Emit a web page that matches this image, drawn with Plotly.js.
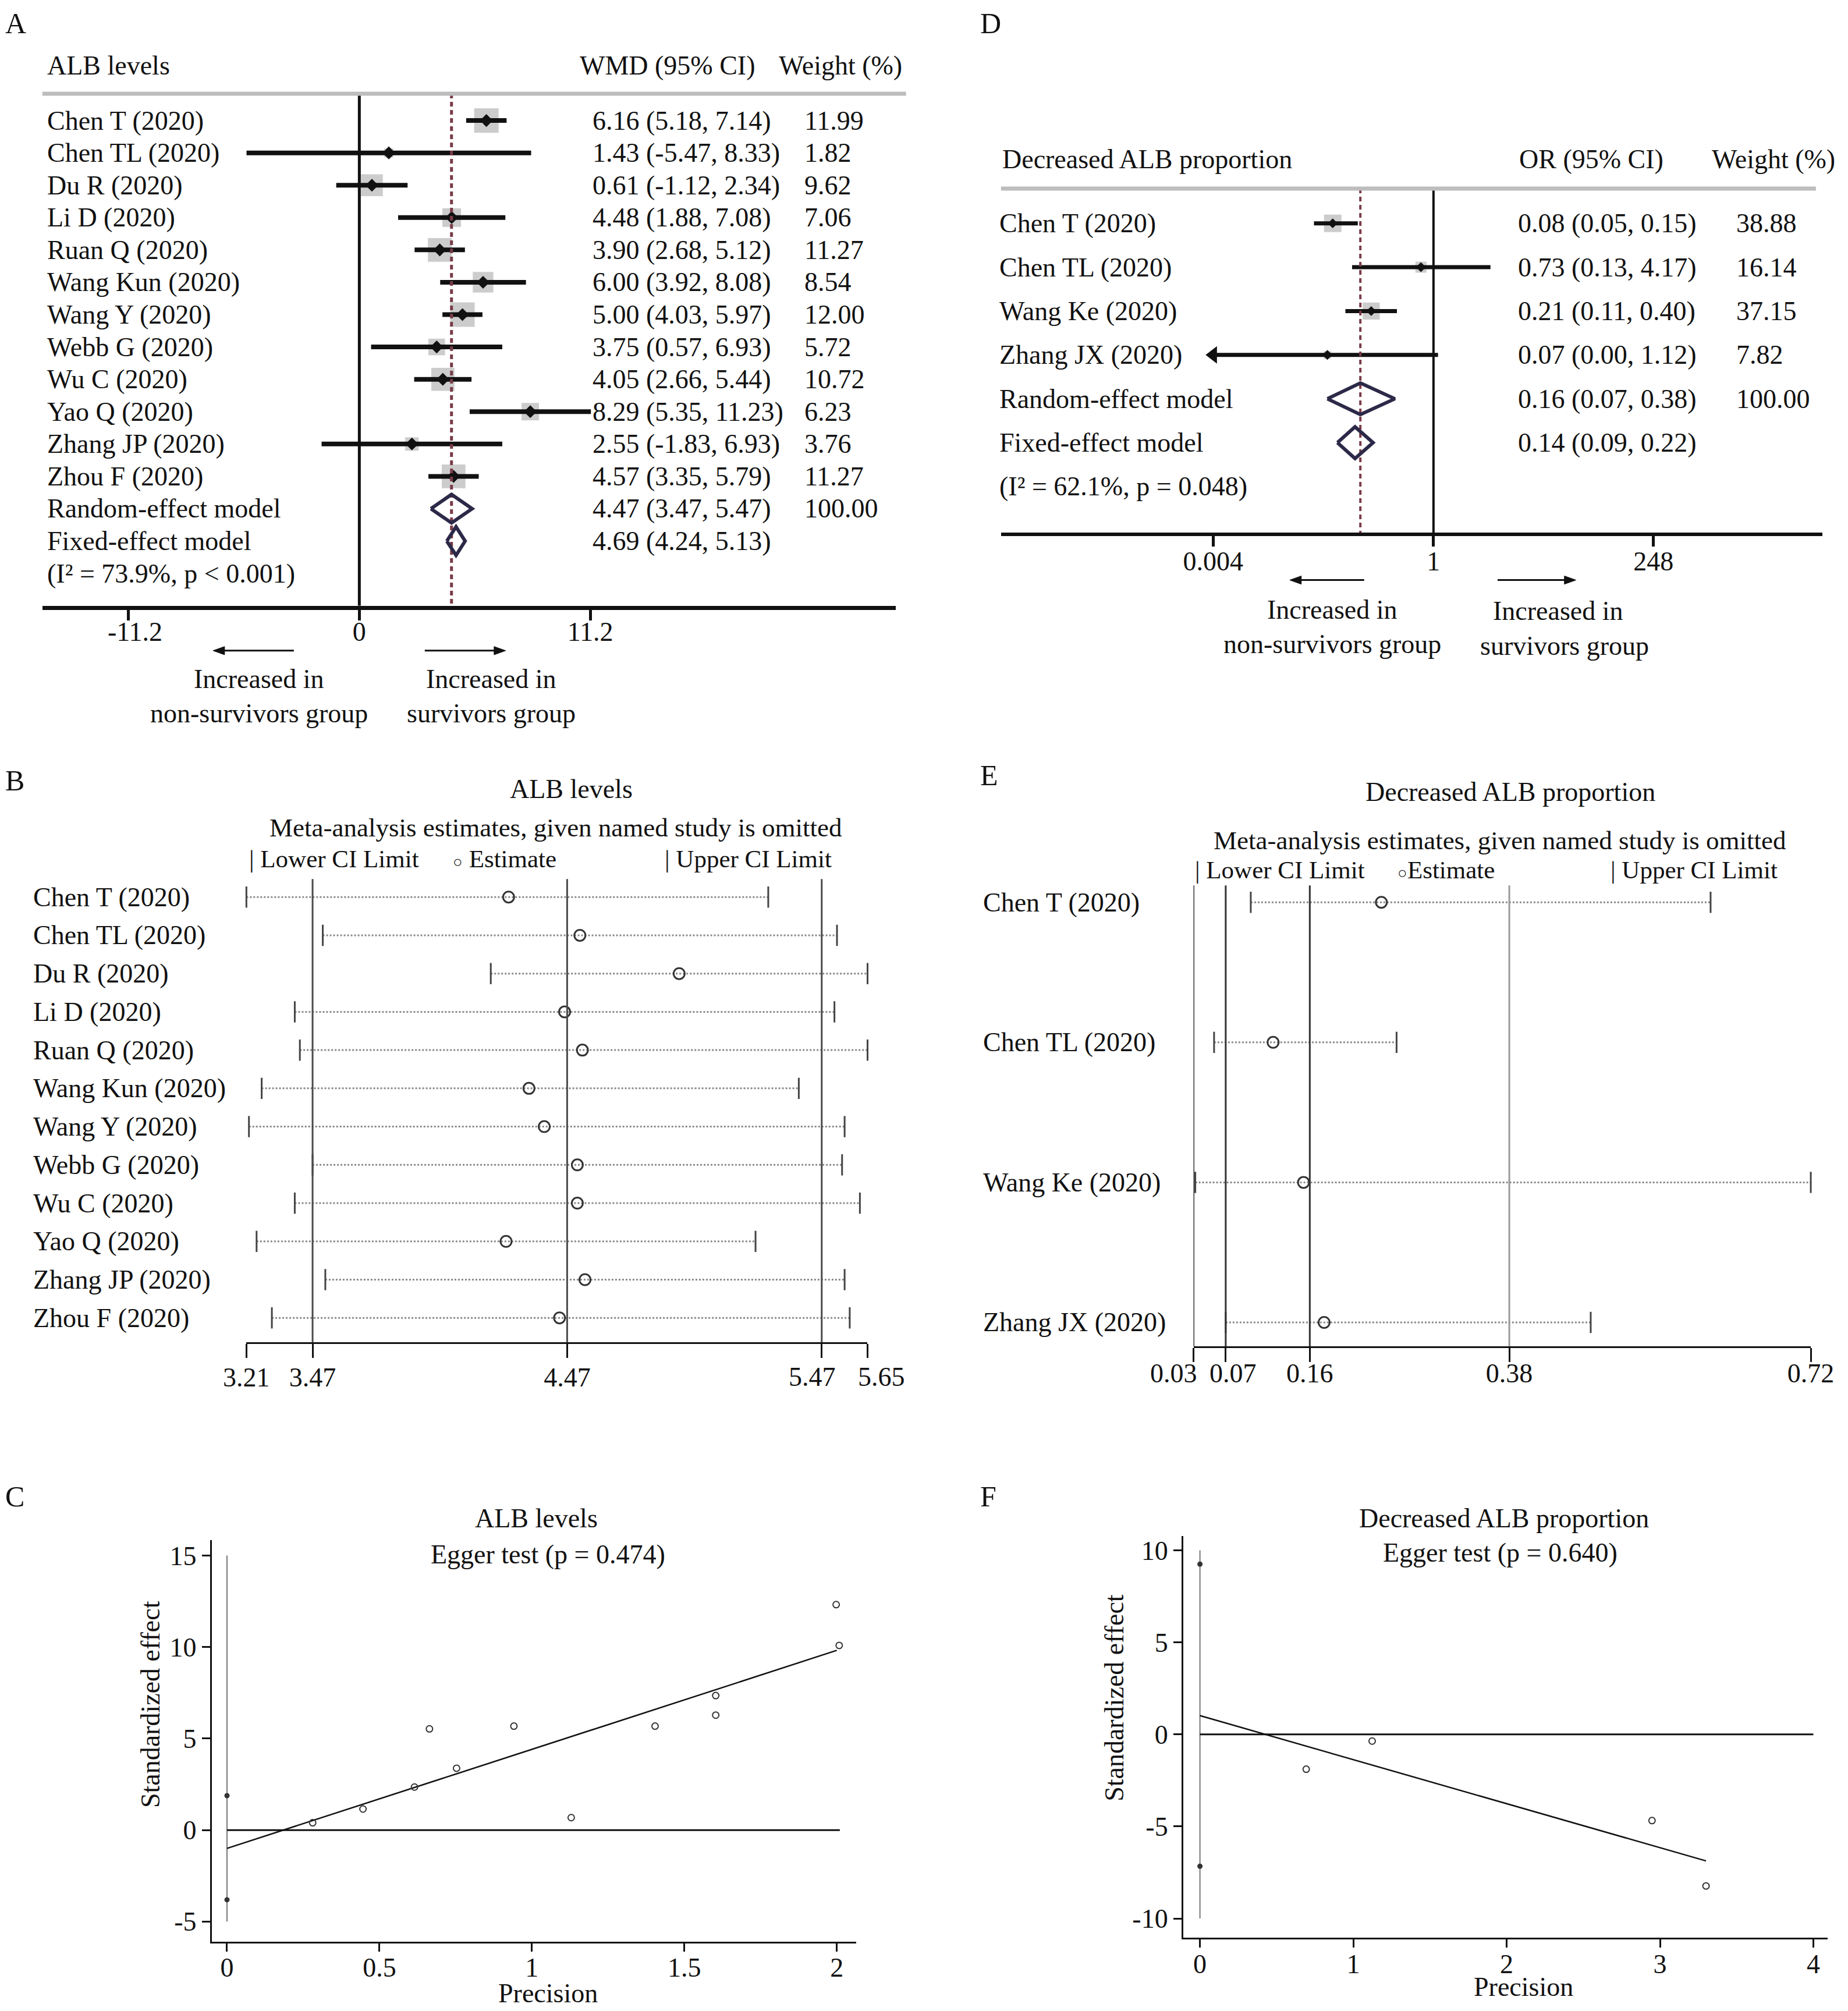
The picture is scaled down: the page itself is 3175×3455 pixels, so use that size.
<!DOCTYPE html>
<html><head><meta charset="utf-8">
<script src="https://cdn.plot.ly/plotly-3.0.1.min.js"></script>
<style>html,body{margin:0;padding:0;background:#fff}</style>
</head><body><div id="chart" style="width:3175px;height:3455px"></div>
<script>
// ---------------- Panel A : ALB levels forest plot ----------------
const studiesA = ['Chen T (2020)','Chen TL (2020)','Du R (2020)','Li D (2020)','Ruan Q (2020)','Wang Kun (2020)','Wang Y (2020)','Webb G (2020)','Wu C (2020)','Yao Q (2020)','Zhang JP (2020)','Zhou F (2020)'];
const wmdA    = [6.16, 1.43, 0.61, 4.48, 3.90, 6.00, 5.00, 3.75, 4.05, 8.29, 2.55, 4.57];
const loA     = [5.18, -5.47, -1.12, 1.88, 2.68, 3.92, 4.03, 0.57, 2.66, 5.35, -1.83, 3.35];
const hiA     = [7.14, 8.33, 2.34, 7.08, 5.12, 8.08, 5.97, 6.93, 5.44, 11.23, 6.93, 5.79];
const weightA = [11.99, 1.82, 9.62, 7.06, 11.27, 8.54, 12.00, 5.72, 10.72, 6.23, 3.76, 11.27];
const pooledLabelsA = ['Random-effect model','Fixed-effect model'];
const pooledEstA = [4.47, 4.69];
const pooledLoA  = [3.47, 4.24];
const pooledHiA  = [5.47, 5.13];
const pooledWeightA = [100.00, null];
const hetA = '(I² = 73.9%, p < 0.001)';
const ticksA = [-11.2, 0, 11.2];
const nullA = 0;

// ---------------- Panel D : Decreased ALB proportion forest plot ----------------
const studiesD = ['Chen T (2020)','Chen TL (2020)','Wang Ke (2020)','Zhang JX (2020)'];
const orD     = [0.08, 0.73, 0.21, 0.07];
const loD     = [0.05, 0.13, 0.11, 0.00];
const hiD     = [0.15, 4.17, 0.40, 1.12];
const weightD = [38.88, 16.14, 37.15, 7.82];
const pooledLabelsD = ['Random-effect model','Fixed-effect model'];
const pooledEstD = [0.16, 0.14];
const pooledLoD  = [0.07, 0.09];
const pooledHiD  = [0.38, 0.22];
const pooledWeightD = [100.00, null];
const hetD = '(I² = 62.1%, p = 0.048)';
const ticksD = [0.004, 1, 248];
const nullD = 1;

// ---------------- Panel B : leave-one-out, ALB levels ----------------
const estB = [4.24, 4.52, 4.91, 4.46, 4.53, 4.32, 4.38, 4.51, 4.51, 4.23, 4.54, 4.44];
const loB  = [3.21, 3.51, 4.17, 3.40, 3.42, 3.27, 3.22, 3.47, 3.40, 3.25, 3.52, 3.31];
const hiB  = [5.26, 5.53, 5.65, 5.52, 5.65, 5.38, 5.56, 5.55, 5.62, 5.21, 5.56, 5.58];
const ticksB = [3.21, 3.47, 4.47, 5.47, 5.65];
const overallB = [3.47, 4.47, 5.47];

// ---------------- Panel E : leave-one-out, decreased ALB proportion ----------------
const estE = [0.240, 0.119, 0.153, 0.176];
const loE  = [0.094, 0.053, 0.032, 0.066];
const hiE  = [0.608, 0.257, 0.720, 0.474];
const ticksE = [0.03, 0.066, 0.16, 0.383, 0.72];
const overallE = [0.066, 0.16, 0.383];

// ---------------- Panel C : Egger plot, ALB levels ----------------
const precC = [0.281, 0.446, 0.615, 0.664, 0.753, 0.941, 1.129, 1.404, 1.603, 1.603, 1.998, 2.008];
const effC  = [0.40, 1.15, 2.35, 5.53, 3.38, 5.68, 0.68, 5.68, 7.35, 6.28, 12.32, 10.09];
const interceptCIC = [-3.81, 1.88];
const eggerXC = [0, 2.00];
const eggerYC = [-1.00, 9.82];
const zeroEndC = 2.01;
const ticksXC = [0, 0.5, 1, 1.5, 2];
const ticksYC = [-5, 0, 5, 10, 15];

// ---------------- Panel F : Egger plot, decreased ALB proportion ----------------
const precF = [0.693, 1.123, 2.948, 3.30];
const effF  = [-1.89, -0.36, -4.68, -8.23];
const interceptCIF = [-7.16, 9.25];
const eggerXF = [0, 3.30];
const eggerYF = [1.02, -6.87];
const zeroEndF = 4;
const ticksXF = [0, 1, 2, 3, 4];
const ticksYF = [-10, -5, 0, 5, 10];

// =====================================================================
const DW = 1440, DH = 1567;            // reference layout grid
const px = d => d / DW;
const py = d => 1 - d / DH;
const FONT = 'Liberation Serif, Times New Roman, serif';
const FS = 46;
const INK = '#111111';
const NB = '\u00A0';

const traces = [];
const annotations = [];
const shapes = [];

function txt(text, x, y, opt) {
  annotations.push(Object.assign({
    text: text, x: x, y: y, xref: 'paper', yref: 'paper', showarrow: false,
    xanchor: 'left', yanchor: 'middle', align: 'left',
    font: {family: FONT, size: FS, color: INK}
  }, opt || {}));
}
// direction arrows drawn as plain shapes (shaft + small head)
function arrow(tailX, headX, yD) {
  const y = py(yD), hx = px(headX), tx = px(tailX);
  const dir = headX < tailX ? 1 : -1;
  const L = px(9) * dir, Wd = 3.2 / DH;
  shapes.push({type:'line', xref:'paper', yref:'paper', x0:tx, x1:hx + L * 0.6, y0:y, y1:y, line:{color:INK, width:3}});
  shapes.push({type:'path', xref:'paper', yref:'paper',
    path:`M ${hx} ${y} L ${hx + L} ${y + Wd} L ${hx + L} ${y - Wd} Z`,
    fillcolor:INK, line:{color:INK, width:1}});
}
function segs(lo, hi, rows) {
  const x = [], y = [];
  lo.forEach((l, i) => { x.push(l, hi[i], null); y.push(rows[i], rows[i], null); });
  return {x, y};
}
const fmt = v => v.toFixed(2);
const ci = (e, l, h) => `${fmt(e)} (${fmt(l)}, ${fmt(h)})`;

// ---------------- Panel A drawing ----------------
const rowsA = studiesA.map((_, i) => i);
const pooledRowsA = [studiesA.length, studiesA.length + 1];
const hetRowA = studiesA.length + 2;
const yRangeA = [15.0, -0.83];
const maxWA = Math.max(...weightA);

traces.push({type:'scatter', mode:'markers', x: wmdA, y: rowsA, xaxis:'x', yaxis:'y',
  marker:{symbol:'square', color:'#b7b7b7', size: weightA.map(w => 43 * Math.sqrt(w / maxWA))},
  hoverinfo:'skip', cliponaxis:false});
(function(){ const s = segs(loA, hiA, rowsA);
  traces.push({type:'scatter', mode:'lines', x:s.x, y:s.y, xaxis:'x', yaxis:'y',
    line:{color:INK, width:8}, hoverinfo:'skip', cliponaxis:false}); })();
traces.push({type:'scatter', mode:'markers', x: wmdA, y: rowsA, xaxis:'x', yaxis:'y',
  marker:{symbol:'diamond', color:INK, size:17}, hoverinfo:'skip', cliponaxis:false});
traces.push({type:'scatter', mode:'lines', x:[nullA, nullA], y:[yRangeA[1], yRangeA[0]], xaxis:'x', yaxis:'y',
  line:{color:INK, width:5}, hoverinfo:'skip'});
traces.push({type:'scatter', mode:'lines', x:[pooledEstA[0], pooledEstA[0]], y:[yRangeA[1], yRangeA[0]], xaxis:'x', yaxis:'y',
  line:{color:'#7a3b48', width:5, dash:'8px,6px'}, hoverinfo:'skip'});
pooledEstA.forEach((e, k) => {
  const r = pooledRowsA[k], h = 0.44;
  traces.push({type:'scatter', mode:'lines', xaxis:'x', yaxis:'y',
    x:[pooledLoA[k], e, pooledHiA[k], e, pooledLoA[k]], y:[r, r - h, r, r + h, r],
    line:{color:'#2c2948', width:6}, hoverinfo:'skip'});
});
// A texts
txt('A', px(3), py(18), {font:{family:FONT, size:50, color:INK}});
txt('ALB levels', px(36), py(51));
txt('WMD (95% CI)', px(451), py(51));
txt('Weight (%)', px(606), py(51));
shapes.push({type:'line', xref:'paper', yref:'paper', x0:px(33), x1:px(706), y0:py(73), y1:py(73), line:{color:'#bdbdbd', width:7}});
studiesA.forEach((s, i) => {
  txt(s, px(36), rowsA[i], {yref:'y'});
  txt(ci(wmdA[i], loA[i], hiA[i]), px(461), rowsA[i], {yref:'y'});
  txt(fmt(weightA[i]), px(626), rowsA[i], {yref:'y'});
});
pooledLabelsA.forEach((s, k) => {
  txt(s, px(36), pooledRowsA[k], {yref:'y'});
  txt(ci(pooledEstA[k], pooledLoA[k], pooledHiA[k]), px(461), pooledRowsA[k], {yref:'y'});
  if (pooledWeightA[k] !== null) txt(fmt(pooledWeightA[k]), px(626), pooledRowsA[k], {yref:'y'});
});
txt(hetA, px(36), hetRowA, {yref:'y'});
arrow(229, 166, 507);
arrow(331, 394, 507);
txt('Increased in', px(202), py(529), {xanchor:'center'});
txt('non-survivors group', px(202), py(556), {xanchor:'center'});
txt('Increased in', px(383), py(529), {xanchor:'center'});
txt('survivors group', px(383), py(556), {xanchor:'center'});

// ---------------- Panel D drawing ----------------
const rowsD = studiesD.map((_, i) => i);
const pooledRowsD = [studiesD.length, studiesD.length + 1];
const hetRowD = studiesD.length + 2;
const yRangeD = [7.05, -0.79];
const maxWD = Math.max(...weightD);
const clipD = ticksD[0];
const loDc = loD.map(v => Math.max(v, clipD));

traces.push({type:'scatter', mode:'markers', x: orD, y: rowsD, xaxis:'x2', yaxis:'y2',
  marker:{symbol:'square', color:'#b7b7b7', size: weightD.map(w => 31 * Math.sqrt(w / maxWD))},
  hoverinfo:'skip', cliponaxis:false});
(function(){ const s = segs(loDc, hiD, rowsD);
  traces.push({type:'scatter', mode:'lines', x:s.x, y:s.y, xaxis:'x2', yaxis:'y2',
    line:{color:INK, width:7}, hoverinfo:'skip', cliponaxis:false}); })();
traces.push({type:'scatter', mode:'markers', x: orD, y: rowsD, xaxis:'x2', yaxis:'y2',
  marker:{symbol:'diamond', color:INK, size:13}, hoverinfo:'skip', cliponaxis:false});
// truncated-CI arrow heads
(function(){
  const idx = loD.map((l, i) => l < clipD ? i : -1).filter(i => i >= 0);
  traces.push({type:'scatter', mode:'markers', x: idx.map(() => clipD), y: idx.map(i => rowsD[i]), xaxis:'x2', yaxis:'y2',
    marker:{symbol:'triangle-left', size:26, color:INK}, hoverinfo:'skip', cliponaxis:false});
})();
traces.push({type:'scatter', mode:'lines', x:[nullD, nullD], y:[yRangeD[1], yRangeD[0]], xaxis:'x2', yaxis:'y2',
  line:{color:INK, width:4}, hoverinfo:'skip'});
traces.push({type:'scatter', mode:'lines', x:[pooledEstD[0], pooledEstD[0]], y:[yRangeD[1], yRangeD[0]], xaxis:'x2', yaxis:'y2',
  line:{color:'#7a3b48', width:4, dash:'8px,6px'}, hoverinfo:'skip'});
pooledEstD.forEach((e, k) => {
  const r = pooledRowsD[k], h = 0.36;
  traces.push({type:'scatter', mode:'lines', xaxis:'x2', yaxis:'y2',
    x:[pooledLoD[k], e, pooledHiD[k], e, pooledLoD[k]], y:[r, r - h, r, r + h, r],
    line:{color:'#2c2948', width:6}, hoverinfo:'skip'});
});
txt('D', px(763), py(18), {font:{family:FONT, size:50, color:INK}});
txt('Decreased ALB proportion', px(780), py(124));
txt('OR (95% CI)', px(1183), py(124));
txt('Weight (%)', px(1333), py(124));
shapes.push({type:'line', xref:'paper', yref:'paper', x0:px(780), x1:px(1415), y0:py(147), y1:py(147), line:{color:'#bdbdbd', width:7}});
studiesD.forEach((s, i) => {
  txt(s, px(778), rowsD[i], {yref:'y2'});
  txt(ci(orD[i], loD[i], hiD[i]), px(1182), rowsD[i], {yref:'y2'});
  txt(fmt(weightD[i]), px(1352), rowsD[i], {yref:'y2'});
});
pooledLabelsD.forEach((s, k) => {
  txt(s, px(778), pooledRowsD[k], {yref:'y2'});
  txt(ci(pooledEstD[k], pooledLoD[k], pooledHiD[k]), px(1182), pooledRowsD[k], {yref:'y2'});
  if (pooledWeightD[k] !== null) txt(fmt(pooledWeightD[k]), px(1352), pooledRowsD[k], {yref:'y2'});
});
txt(hetD, px(778), hetRowD, {yref:'y2'});
arrow(1063, 1005, 452);
arrow(1167, 1228, 452);
txt('Increased in', px(1038), py(475), {xanchor:'center'});
txt('non-survivors group', px(1038), py(502), {xanchor:'center'});
txt('Increased in', px(1214), py(476), {xanchor:'center'});
txt('survivors group', px(1219), py(503), {xanchor:'center'});

// ---------------- Panel B drawing ----------------
const rowsB = studiesA.map((_, i) => i);
function looPanel(lo, hi, est, rows, xa, ya) {
  const s = segs(lo, hi, rows);
  traces.push({type:'scatter', mode:'lines', x:s.x, y:s.y, xaxis:xa, yaxis:ya,
    line:{color:'#8a8a8a', width:3, dash:'dot'}, hoverinfo:'skip', cliponaxis:false});
  traces.push({type:'scatter', mode:'markers', x: lo.concat(hi), y: rows.concat(rows), xaxis:xa, yaxis:ya,
    marker:{symbol:'line-ns', size:26, color:'#444', line:{color:'#444', width:3}}, hoverinfo:'skip', cliponaxis:false});
  traces.push({type:'scatter', mode:'markers', x: est, y: rows, xaxis:xa, yaxis:ya,
    marker:{symbol:'circle-open', size:19, color:'#333', line:{color:'#333', width:3}}, hoverinfo:'skip', cliponaxis:false});
}
overallB.forEach(v => shapes.push({type:'line', xref:'x3', yref:'y3 domain', x0:v, x1:v, y0:0, y1:1, line:{color:'#4a4a4a', width:3}}));
looPanel(loB, hiB, estB, rowsB, 'x3', 'y3');
const LEG = {family:FONT, size:43, color:INK};
const META = {family:FONT, size:45, color:INK};
txt('B', px(3), py(608), {font:{family:FONT, size:50, color:INK}});
txt('ALB levels', px(445), py(615), {xanchor:'center'});
txt('Meta-analysis estimates, given named study is omitted', px(433), py(645), {xanchor:'center', font:META});
txt('| Lower CI Limit', px(193), py(669), {font:LEG});
txt('<span style="font-size:28px">○</span> Estimate', px(352), py(669), {font:LEG});
txt('| Upper CI Limit', px(517), py(669), {font:LEG});
studiesA.forEach((s, i) => txt(s, px(25), rowsB[i], {yref:'y3'}));

// ---------------- Panel E drawing ----------------
const rowsE = studiesD.map((_, i) => i);
shapes.push({type:'line', xref:'x4', yref:'y4 domain', x0:ticksE[0], x1:ticksE[0], y0:0, y1:1, line:{color:'#333', width:3}});
overallE.forEach((v, k) => shapes.push({type:'line', xref:'x4', yref:'y4 domain', x0:v, x1:v, y0:0, y1:1,
  line:{color: k === 2 ? '#9a9a9a' : '#333', width:3}}));
looPanel(loE, hiE, estE, rowsE, 'x4', 'y4');
txt('E', px(763), py(604), {font:{family:FONT, size:50, color:INK}});
txt('Decreased ALB proportion', px(1177), py(617), {xanchor:'center'});
txt('Meta-analysis estimates, given named study is omitted', px(1169), py(655), {xanchor:'center', font:META});
txt('| Lower CI Limit', px(930), py(678), {font:LEG});
txt('<span style="font-size:28px">○</span>Estimate', px(1088), py(678), {font:LEG});
txt('| Upper CI Limit', px(1254), py(678), {font:LEG});
studiesD.forEach((s, i) => txt(s, px(765), rowsE[i], {yref:'y4'}));

// ---------------- Panels C & F drawing ----------------
function eggerPanel(prec, eff, icpt, lx, ly, zeroEnd, ty, xa, ya) {
  traces.push({type:'scatter', mode:'lines', x:[0, 0], y:[Math.min(...ty), Math.max(...ty)], xaxis:xa, yaxis:ya,
    line:{color:'#777', width:2}, hoverinfo:'skip'});
  traces.push({type:'scatter', mode:'lines', x:[0, zeroEnd], y:[0, 0], xaxis:xa, yaxis:ya,
    line:{color:INK, width:3}, hoverinfo:'skip'});
  traces.push({type:'scatter', mode:'lines', x:lx, y:ly, xaxis:xa, yaxis:ya,
    line:{color:INK, width:2.5}, hoverinfo:'skip'});
  traces.push({type:'scatter', mode:'markers', x: prec, y: eff, xaxis:xa, yaxis:ya,
    marker:{symbol:'circle-open', size:11, color:'#333', line:{color:'#333', width:2}}, hoverinfo:'skip', cliponaxis:false});
  traces.push({type:'scatter', mode:'markers', x: icpt.map(() => 0), y: icpt, xaxis:xa, yaxis:ya,
    marker:{symbol:'circle', size:9, color:'#333'}, hoverinfo:'skip', cliponaxis:false});
}
eggerPanel(precC, effC, interceptCIC, eggerXC, eggerYC, zeroEndC, ticksYC, 'x5', 'y5');
eggerPanel(precF, effF, interceptCIF, eggerXF, eggerYF, zeroEndF, ticksYF, 'x6', 'y6');
txt('C', px(3), py(1166), {font:{family:FONT, size:50, color:INK}});
txt('ALB levels', px(418), py(1183), {xanchor:'center'});
txt('Egger test (p = 0.474)', px(427), py(1211), {xanchor:'center'});
txt('Standardized effect', px(117), py(1328), {xanchor:'center', textangle:-90});
txt('Precision', px(427), py(1553), {xanchor:'center'});
txt('F', px(763), py(1166), {font:{family:FONT, size:50, color:INK}});
txt('Decreased ALB proportion', px(1172), py(1183), {xanchor:'center'});
txt('Egger test (p = 0.640)', px(1169), py(1210), {xanchor:'center'});
txt('Standardized effect', px(868), py(1323), {xanchor:'center', textangle:-90});
txt('Precision', px(1187), py(1548), {xanchor:'center'});

// ---------------- Axes ----------------
const tickFont = {family:FONT, size:FS, color:INK};
function hidden(domain, range, anchor) {
  return {domain, range, anchor, visible:false, fixedrange:true, showgrid:false, zeroline:false};
}
function forestX(domain, range, tv, tt, anchor, lw, tl, extra) {
  return Object.assign({domain, range, anchor, tickmode:'array', tickvals:tv, ticktext:tt,
    ticks:'outside', ticklen:tl, tickwidth:lw > 4 ? 5 : 3, tickcolor:INK, tickangle:0,
    showline:true, linecolor:INK, linewidth:lw, showgrid:false, zeroline:false,
    tickfont:tickFont, fixedrange:true}, extra || {});
}
const ttA = ticksA.map(v => String(v));
ttA[0] = NB + NB + ttA[0];
// B: the two crowded right labels are set beside their ticks (right / left aligned)
const ttB = ticksB.map((v, i) => i >= 3 ? '' : fmt(v));
txt(fmt(ticksB[3]), ticksB[3], py(1073), {xref:'x3', xanchor:'right', xshift:26});
txt(fmt(ticksB[4]), ticksB[4], py(1073), {xref:'x3', xanchor:'left', xshift:-18});
// E: the two crowded left labels are set beside their ticks (right / left aligned)
const ttE = ticksE.map((v, i) => i < 2 ? '' : fmt(v));
txt(fmt(ticksE[0]), ticksE[0], py(1070), {xref:'x4', xanchor:'right', xshift:8});
txt(fmt(ticksE[1]), ticksE[1], py(1070), {xref:'x4', xanchor:'left', xshift:-30});

const layout = {
  width: 3175, height: 3455,
  margin: {l:0, r:0, t:0, b:0, pad:0},
  paper_bgcolor: '#ffffff', plot_bgcolor: 'rgba(0,0,0,0)',
  showlegend: false,
  font: {family: FONT, size: FS, color: INK},
  // A
  xaxis: forestX([px(33), px(698)], [(33 - 280) / 16.07, (698 - 280) / 16.07], ticksA, ttA, 'y', 7, 18,
    {ticklabelstandoff: -20}),
  yaxis: hidden([py(472), py(73)], yRangeA, 'x'),
  // D (log scale)
  xaxis2: forestX([px(780), px(1420)], [-4.707, 4.232], ticksD, ticksD.map(v => String(v)), 'y2', 6, 18,
    {type:'log', ticklabelstandoff: -14}),
  yaxis2: hidden([py(415), py(147)], yRangeD, 'x2'),
  // B
  xaxis3: forestX([px(192), px(676)], [ticksB[0], ticksB[ticksB.length - 1]], ticksB, ttB, 'y3', 3, 24,
    {ticklabelstandoff: -6}),
  yaxis3: hidden([py(1046), py(685)], [11.64, -0.47], 'x3'),
  // E
  xaxis4: forestX([px(930), px(1411)], [ticksE[0], ticksE[ticksE.length - 1]], ticksE, ttE, 'y4', 3, 24,
    {ticklabelstandoff: -20}),
  yaxis4: hidden([py(1049), py(690)], [3.17, -0.12], 'x4'),
  // C
  xaxis5: forestX([px(165), px(667)], [-0.05, 2.063], ticksXC, ticksXC.map(v => String(v)), 'y5', 3, 14,
    {ticklabelstandoff: -12}),
  yaxis5: forestX([py(1513), py(1200)], [-6.1, 15.85], ticksYC, ticksYC.map(v => String(v)), 'x5', 3, 14),
  // F
  xaxis6: forestX([px(922), px(1424)], [-0.109, 4.092], ticksXF, ticksXF.map(v => String(v)), 'y6', 3, 14,
    {ticklabelstandoff: -12}),
  yaxis6: forestX([py(1510), py(1197)], [-11.05, 10.77], ticksYF, ticksYF.map(v => String(v)), 'x6', 3, 14),
  annotations: annotations,
  shapes: shapes
};

Plotly.newPlot('chart', traces, layout, {staticPlot: true, displayModeBar: false});
</script></body></html>
